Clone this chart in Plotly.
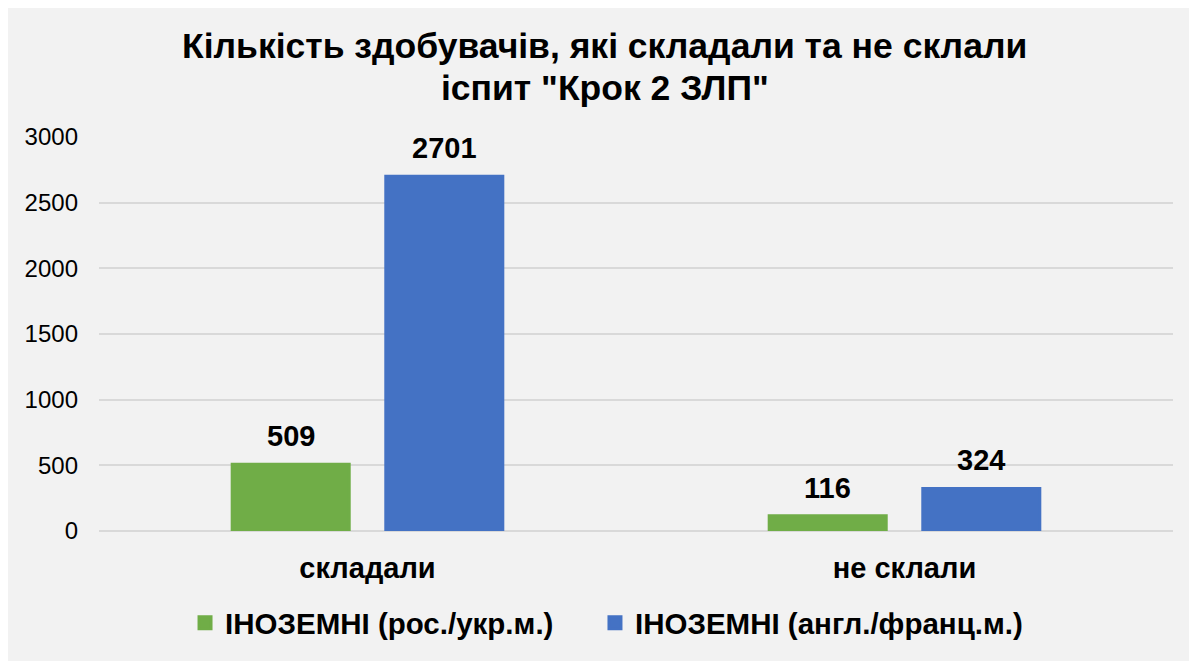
import plotly.graph_objects as go

categories = ["складали", "не склали"]
series_names = ["ІНОЗЕМНІ (рос./укр.м.)", "ІНОЗЕМНІ (англ./франц.м.)"]
values_ru_uk = [509, 116]
values_en_fr = [2701, 324]
colors = ["#70AD47", "#4472C4"]
y_ticks = [0, 500, 1000, 1500, 2000, 2500, 3000]
title_lines = ["Кількість здобувачів, які складали та не склали", "іспит \"Крок 2 ЗЛП\""]

FONT = "Liberation Sans, Arial, sans-serif"

fig = go.Figure()
all_values = [values_ru_uk, values_en_fr]
legend_ids = ["legend", "legend2"]
for name, vals, col, lg in zip(series_names, all_values, colors, legend_ids):
    fig.add_trace(go.Bar(
        x=categories, y=vals, name=name, legend=lg,
        marker=dict(color=col, line=dict(width=3, color=col)),
    ))

# data labels above bars
slot_px = 153.5
for vals, shift in zip(all_values, [-slot_px / 2, slot_px / 2]):
    for c, v in zip(categories, vals):
        fig.add_annotation(
            x=c, y=v, text=f"<b>{v}</b>", showarrow=False,
            xshift=shift, yshift=10, yanchor="bottom",
            font=dict(family=FONT, size=29, color="#000000"),
        )

# two-line title
for line, ypos in zip(title_lines, [1.2299, 1.1244]):
    fig.add_annotation(
        xref="paper", yref="paper", x=0.471, y=ypos,
        xanchor="center", yanchor="middle", showarrow=False,
        text=f"<b>{line}</b>",
        font=dict(family=FONT, size=35.5, color="#000000"),
    )

legend_font = dict(family=FONT, size=29.5, color="#000000", weight="bold")

fig.update_layout(
    width=1189, height=653,
    paper_bgcolor="#F2F2F2", plot_bgcolor="#F2F2F2",
    margin=dict(l=91, r=24, t=129, b=126),
    barmode="group", bargap=0.428, bargroupgap=0.238,
    font=dict(family=FONT, color="#000000"),
    showlegend=True,
    legend=dict(
        orientation="h", x=0.0801, xanchor="left",
        y=-0.234, yanchor="middle",
        font=legend_font, bgcolor="rgba(0,0,0,0)",
    ),
    legend2=dict(
        orientation="h", x=0.4618, xanchor="left",
        y=-0.234, yanchor="middle",
        font=legend_font, bgcolor="rgba(0,0,0,0)",
    ),
    xaxis=dict(
        showgrid=False, showline=False, zeroline=False,
        tickfont=dict(family=FONT, size=29, color="#000000", weight="bold"),
        ticklabelstandoff=17,
    ),
    yaxis=dict(
        range=[0, 3000], tickvals=y_ticks,
        showgrid=True, gridcolor="#D9D9D9", gridwidth=1.5,
        zeroline=True, zerolinecolor="#D9D9D9", zerolinewidth=1.5,
        showline=False,
        tickfont=dict(family=FONT, size=24, color="#000000"),
        ticklabelstandoff=20,
    ),
)

fig.write_html("out.html")
